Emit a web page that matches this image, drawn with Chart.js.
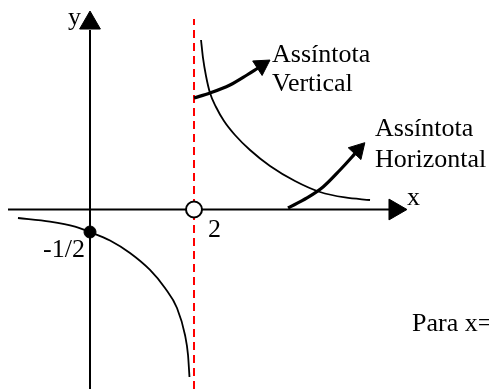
<!DOCTYPE html>
<html>
<head>
<meta charset="utf-8">
<script src="https://cdn.jsdelivr.net/npm/chart.js@4/dist/chart.umd.min.js"></script>
<style>
html,body{margin:0;padding:0;background:#fff;}
#wrap{width:489px;height:389px;}
</style>
</head>
<body>
<div id="wrap"><canvas id="c" width="489" height="389"></canvas></div>
<script>
// f(x) = 1/(x-2) sketch (x, y in function units)
const rightBranchX = [2.135, 2.173, 2.231, 2.308, 2.423, 2.577, 2.788, 3.077, 3.462, 3.942, 4.423, 4.904, 5.385];
const rightBranchY = [3.767, 3.367, 2.967, 2.589, 2.278, 1.967, 1.656, 1.322, 0.967, 0.633, 0.389, 0.267, 0.211];
const leftBranchX  = [-1.385, -0.769, -0.288, 0, 0.385, 0.769, 1.154, 1.442, 1.673, 1.827, 1.885, 1.913];
const leftBranchY  = [-0.189, -0.267, -0.378, -0.5, -0.689, -0.967, -1.344, -1.744, -2.189, -2.789, -3.233, -3.722];
const asymptoteX = 2;        // vertical asymptote
const holeX = 2, holeY = 0;   // open circle
const interceptX = 0, interceptY = -0.5; // filled point
const arrowVertX = [2.0, 2.308, 2.692, 3.019, 3.231];
const arrowVertY = [2.478, 2.589, 2.767, 2.989, 3.144];
const arrowHorX  = [3.808, 4.173, 4.481, 4.808, 5.038, 5.154];
const arrowHorY  = [0.033, 0.256, 0.5, 0.878, 1.167, 1.322];
const xAxisRange = [-1.577, 5.769];
const yAxisRange = [-3.989, 3.989];
const asymptoteRange = [-3.989, 4.233];
const tickLabels = ["2", "-1/2"];

const zip = (xs, ys) => xs.map((x, i) => ({x: x, y: ys[i]}));

const texts = [
  {t: "y", x: -0.423, y: 4.1},
  {t: "Assíntota", x: 3.5, y: 3.278},
  {t: "Vertical", x: 3.5, y: 2.633},
  {t: "Assíntota", x: 5.481, y: 1.633},
  {t: "Horizontal", x: 5.481, y: 0.944},
  {t: "x", x: 6.096, y: 0.1},
  {t: tickLabels[0], x: 2.269, y: -0.611},
  {t: tickLabels[1], x: -0.904, y: -1.056},
  {t: "Para x=", x: 6.192, y: -2.7}
];

const textPlugin = {
  id: 'texts',
  afterDatasetsDraw(chart) {
    const ctx = chart.ctx, xs = chart.scales.x, ys = chart.scales.y;
    ctx.save();
    ctx.fillStyle = '#000';
    ctx.font = '26px "Liberation Serif", "Times New Roman", serif';
    ctx.textBaseline = 'alphabetic';
    ctx.textAlign = 'left';
    texts.forEach(o => ctx.fillText(o.t, xs.getPixelForValue(o.x), ys.getPixelForValue(o.y)));
    ctx.restore();
  }
};

const lineDs = (data, opts) => Object.assign({
  data: data, showLine: true, borderColor: '#000', backgroundColor: '#000',
  borderWidth: 2, pointRadius: 0, pointHoverRadius: 0, fill: false, clip: false
}, opts);

new Chart(document.getElementById('c'), {
  type: 'scatter',
  data: {
    datasets: [
      // markers on top
      {data: [{x: holeX, y: holeY}], pointRadius: 8, pointBackgroundColor: '#fff', pointBorderColor: '#000', pointBorderWidth: 2, order: 0, clip: false},
      {data: [{x: interceptX, y: interceptY}], pointRadius: 6, pointBackgroundColor: '#000', pointBorderColor: '#000', pointBorderWidth: 1, order: 0, clip: false},
      // arrowheads
      {data: [{x: 0, y: 4.144}], pointStyle: 'triangle', rotation: 0, pointRadius: 12, pointBackgroundColor: '#000', pointBorderColor: '#000', pointBorderWidth: 1, order: 1, clip: false},
      {data: [{x: 5.865, y: 0}], pointStyle: 'triangle', rotation: 90, pointRadius: 12, pointBackgroundColor: '#000', pointBorderColor: '#000', pointBorderWidth: 1, order: 1, clip: false},
      {data: [{x: 3.30, y: 3.20}], pointStyle: 'triangle', rotation: 57, pointRadius: 10, pointBackgroundColor: '#000', pointBorderColor: '#000', pointBorderWidth: 1, order: 1, clip: false},
      {data: [{x: 5.154, y: 1.322}], pointStyle: 'triangle', rotation: 43, pointRadius: 10, pointBackgroundColor: '#000', pointBorderColor: '#000', pointBorderWidth: 1, order: 1, clip: false},
      // arrows
      lineDs(zip(arrowVertX, arrowVertY), {borderWidth: 3.2, cubicInterpolationMode: 'monotone', order: 2}),
      lineDs(zip(arrowHorX, arrowHorY), {borderWidth: 3.2, cubicInterpolationMode: 'monotone', order: 2}),
      // curves
      lineDs(zip(rightBranchX, rightBranchY), {borderWidth: 1.8, cubicInterpolationMode: 'monotone', order: 3}),
      lineDs(zip(leftBranchX, leftBranchY), {borderWidth: 1.8, cubicInterpolationMode: 'monotone', order: 3}),
      // asymptote
      lineDs([{x: asymptoteX, y: asymptoteRange[0]}, {x: asymptoteX, y: asymptoteRange[1]}], {borderColor: '#ff0000', borderWidth: 2, borderDash: [8, 5], order: 4}),
      // axes
      lineDs([{x: xAxisRange[0], y: 0}, {x: xAxisRange[1], y: 0}], {borderWidth: 2, order: 5}),
      lineDs([{x: 0, y: yAxisRange[0]}, {x: 0, y: yAxisRange[1]}], {borderWidth: 2, order: 5})
    ]
  },
  options: {
    responsive: false,
    animation: false,
    devicePixelRatio: 1,
    layout: {padding: 0, autoPadding: false},
    plugins: {legend: {display: false}, tooltip: {enabled: false}},
    events: [],
    scales: {
      x: {type: 'linear', display: false, min: -1.7308, max: 7.6731},
      y: {type: 'linear', display: false, min: -3.9889, max: 4.6556}
    }
  },
  plugins: [textPlugin]
});
</script>
</body>
</html>
